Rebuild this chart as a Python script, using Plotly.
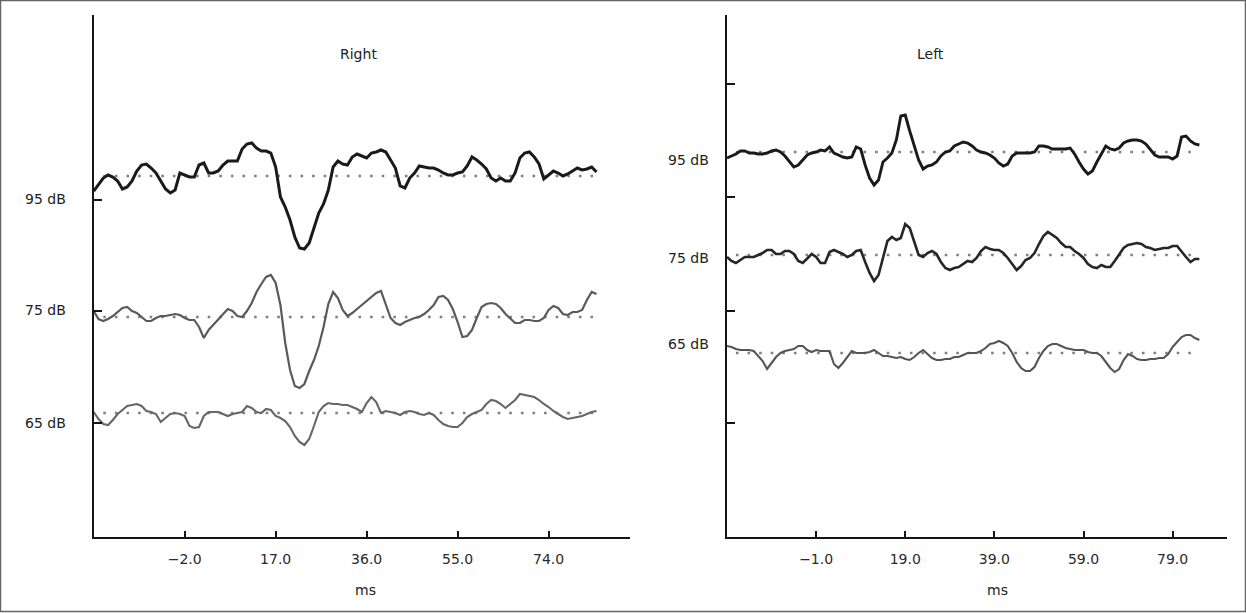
import plotly.graph_objects as go

# ---------------- data ----------------
# time samples (ms)
right_t = list(range(-21, 85))
left_t = list(range(-21, 86))

# waveform amplitudes (arbitrary units) relative to each trace's baseline
right_95 = [-15, -9, -2, 1, -1, -5, -13, -11, -5, 5,
            11, 12, 8, 3, -5, -13, -17, -14, 3, 1,
            -1, -1, 11, 13, 3, 3, 5, 11, 15, 15,
            15, 27, 32, 33, 28, 25, 25, 23, 9, -21,
            -31, -44, -61, -72, -73, -67, -51, -37, -28, -14,
            9, 15, 12, 11, 19, 22, 20, 18, 23, 24,
            26, 24, 16, 8, -10, -12, -2, 3, 10, 9,
            8, 8, 6, 3, 1, 1, 3, 4, 10, 19,
            16, 12, 7, -2, -5, -2, -5, -5, 3, 18,
            23, 24, 19, 12, -3, 1, 5, 3, 0, 2,
            5, 8, 6, 7, 9, 4]
right_75 = [6, -2, -4, -2, 1, 5, 9, 10, 6, 4,
            0, -4, -4, -1, 1, 1, 2, 3, 2, -1,
            -3, -3, -10, -21, -13, -8, -2, 3, 8, 6,
            1, 0, 6, 14, 25, 33, 40, 42, 34, 12,
            -26, -53, -69, -71, -67, -54, -43, -29, -10, 13,
            25, 19, 7, 1, 4, 8, 12, 16, 20, 24,
            26, 13, -1, -6, -8, -5, -3, -1, 0, 3,
            7, 12, 20, 21, 17, 8, -5, -20, -19, -13,
            -1, 10, 13, 14, 13, 9, 3, -2, -6, -6,
            -3, -3, -4, -4, -1, 7, 11, 9, 3, 2,
            5, 5, 7, 17, 25, 23]
right_65 = [1, -6, -11, -12, -7, -1, 3, 7, 8, 9,
            7, 2, 1, -1, -9, -5, -1, 0, -1, -3,
            -13, -15, -14, -3, 1, 1, 1, -1, -3, -1,
            0, 1, 7, 5, 1, 0, 4, 3, -3, -5,
            -8, -14, -23, -29, -32, -26, -13, 1, 7, 10,
            9, 9, 8, 8, 6, 4, 1, 10, 16, 11,
            0, 2, 1, 0, -2, 1, 2, 1, -1, -2,
            0, -2, -7, -11, -13, -14, -14, -10, -4, -1,
            1, 3, 9, 13, 12, 9, 5, 9, 13, 19,
            18, 17, 16, 13, 9, 6, 2, -1, -4, -6,
            -5, -4, -3, -1, 1, 2]
left_95 = [-6, -4, -2, 1, 1, -1, -1, -2, -2, -1,
           1, 2, 0, -4, -10, -15, -13, -8, -3, -1,
           0, 2, 1, 5, -1, -3, -5, -6, -5, 5,
           3, -13, -26, -33, -28, -10, -6, -1, 12, 36,
           37, 21, 6, -8, -17, -14, -13, -10, -4, 0,
           1, 6, 8, 10, 9, 6, 2, 0, -1, -3,
           -6, -11, -14, -12, -4, -1, -1, -1, -1, 0,
           6, 6, 5, 3, 3, 3, 3, 4, -2, -10,
           -17, -22, -19, -10, -2, 6, 3, 2, 4, 9,
           11, 12, 12, 11, 8, 2, -3, -5, -5, -5,
           -7, -4, 15, 16, 11, 8, 7]
left_75 = [-2, -6, -8, -5, -2, -2, -2, 0, 2, 5,
           5, 1, 1, 4, 4, 1, -6, -8, -4, 1,
           -2, -8, -8, 3, 5, 3, 1, -2, 0, 4,
           5, -7, -18, -26, -20, -3, 14, 18, 15, 17,
           31, 27, 13, 0, -2, 2, 4, 1, -7, -13,
           -15, -13, -12, -9, -6, -7, -3, 4, 8, 6,
           5, 5, 2, -3, -9, -15, -11, -5, -3, 2,
           11, 19, 23, 20, 17, 12, 8, 8, 4, 1,
           -3, -9, -12, -13, -10, -12, -12, -6, 1, 7,
           10, 11, 12, 11, 8, 7, 5, 6, 7, 7,
           9, 9, 3, -2, -7, -4, -4]
left_65 = [7, 6, 4, 3, 3, 3, 2, -3, -8, -16,
           -10, -4, 0, 2, 3, 4, 7, 7, 3, 1,
           3, 2, 2, 2, -11, -15, -10, -4, 2, 0,
           0, 0, 1, 3, 0, -3, -3, -4, -5, -4,
           -6, -7, -4, 0, 3, -1, -5, -7, -7, -6,
           -6, -4, -4, -2, 0, 0, 0, 2, 5, 9,
           10, 12, 10, 7, 0, -9, -15, -18, -18, -14,
           -5, 2, 7, 9, 9, 7, 5, 4, 3, 3,
           3, 1, 0, 0, -3, -9, -15, -19, -16, -7,
           -1, -3, -6, -7, -7, -6, -6, -5, -5, -1,
           6, 11, 16, 18, 18, 15, 13]

levels = ["95 dB", "75 dB", "65 dB"]
# vertical offsets of each trace's baseline (same units)
right_offsets = [361, 220, 124]
left_offsets = [385, 282, 184]
# positions of the level labels
right_label_y = [338, 227, 114]
left_label_y = [377, 279, 193]

right_xticks = [-21, -2, 17, 36, 55, 74]
right_xtext = ["", "\u22122.0", "17.0", "36.0", "55.0", "74.0"]
left_xticks = [-21, -1, 19, 39, 59, 79]
left_xtext = ["", "\u22121.0", "19.0", "39.0", "59.0", "79.0"]
right_yticks = [114, 226, 337]
left_yticks = [114, 226, 340, 453]

# ---------------- figure ----------------
W, H = 1246, 613
FONT = "DejaVu Sans"
fig = go.Figure()

right_series = [right_95, right_75, right_65]
left_series = [left_95, left_75, left_65]
right_style = [("#1a1a1a", 3.0), ("#5a5a5a", 2.2), ("#666666", 2.1)]
left_style = [("#1a1a1a", 2.9), ("#262626", 2.6), ("#555555", 2.1)]


def add_panel(t, series, offsets, styles, xa, ya):
    for off in offsets:
        fig.add_trace(go.Scatter(
            x=[t[0] + 2, t[-1]], y=[off, off], mode="lines",
            line=dict(color="#808080", width=2.6, dash="2.6px,9px"),
            xaxis=xa, yaxis=ya, hoverinfo="skip", showlegend=False))
    for vals, off, (col, w) in zip(series, offsets, styles):
        fig.add_trace(go.Scatter(
            x=t, y=[off + v for v in vals], mode="lines",
            line=dict(color=col, width=w),
            xaxis=xa, yaxis=ya, showlegend=False))


add_panel(right_t, right_series, right_offsets, right_style, "x", "y")
add_panel(left_t, left_series, left_offsets, left_style, "x2", "y2")

ydom = [(H - 537) / H, (H - 15) / H]
axis_common = dict(showgrid=False, zeroline=False, showline=True,
                   linecolor="#151515", linewidth=2.3, ticks="inside",
                   tickcolor="#151515", tickwidth=2,
                   tickfont=dict(family=FONT, size=14, color="#2a2a2a"))

fig.update_layout(
    width=W, height=H, margin=dict(l=0, r=0, t=0, b=0),
    paper_bgcolor="white", plot_bgcolor="white",
    xaxis=dict(domain=[93.7 / W, 630 / W], range=[-21, 91], anchor="y",
               tickvals=right_xticks, ticktext=right_xtext, ticklen=6,
               ticklabelstandoff=8, **axis_common),
    yaxis=dict(domain=ydom, range=[0, 522], anchor="x",
               tickvals=right_yticks, showticklabels=False, ticklen=8,
               **axis_common),
    xaxis2=dict(domain=[727 / W, 1227 / W], range=[-21, 91.2], anchor="y2",
                tickvals=left_xticks, ticktext=left_xtext, ticklen=6,
                ticklabelstandoff=8, **axis_common),
    yaxis2=dict(domain=ydom, range=[0, 522], anchor="x2",
                tickvals=left_yticks, showticklabels=False, ticklen=8,
                **axis_common),
)

ann = []
for lab, yv in zip(levels, right_label_y):
    ann.append(dict(text=lab, x=68 / W, xref="paper", xanchor="right",
                    y=yv, yref="y", yanchor="middle", showarrow=False,
                    font=dict(family=FONT, size=14, color="#222")))
for lab, yv in zip(levels, left_label_y):
    ann.append(dict(text=lab, x=711 / W, xref="paper", xanchor="right",
                    y=yv, yref="y2", yanchor="middle", showarrow=False,
                    font=dict(family=FONT, size=14, color="#222")))
for txt, xp, yp in [("Right", 358 / W, 1 - 54 / H), ("Left", 930 / W, 1 - 54 / H),
                    ("ms", 365 / W, 1 - 590 / H), ("ms", 997 / W, 1 - 590 / H)]:
    ann.append(dict(text=txt, x=xp, y=yp, xref="paper", yref="paper",
                    xanchor="center", yanchor="middle", showarrow=False,
                    font=dict(family=FONT, size=14, color="#222")))
fig.update_layout(annotations=ann)

fig.add_shape(type="rect", xref="paper", yref="paper",
              x0=0.5 / W, x1=1 - 0.5 / W, y0=1.5 / H, y1=1 - 0.5 / H,
              line=dict(color="#666", width=1.5), fillcolor="rgba(0,0,0,0)")

fig.write_html("out.html")
